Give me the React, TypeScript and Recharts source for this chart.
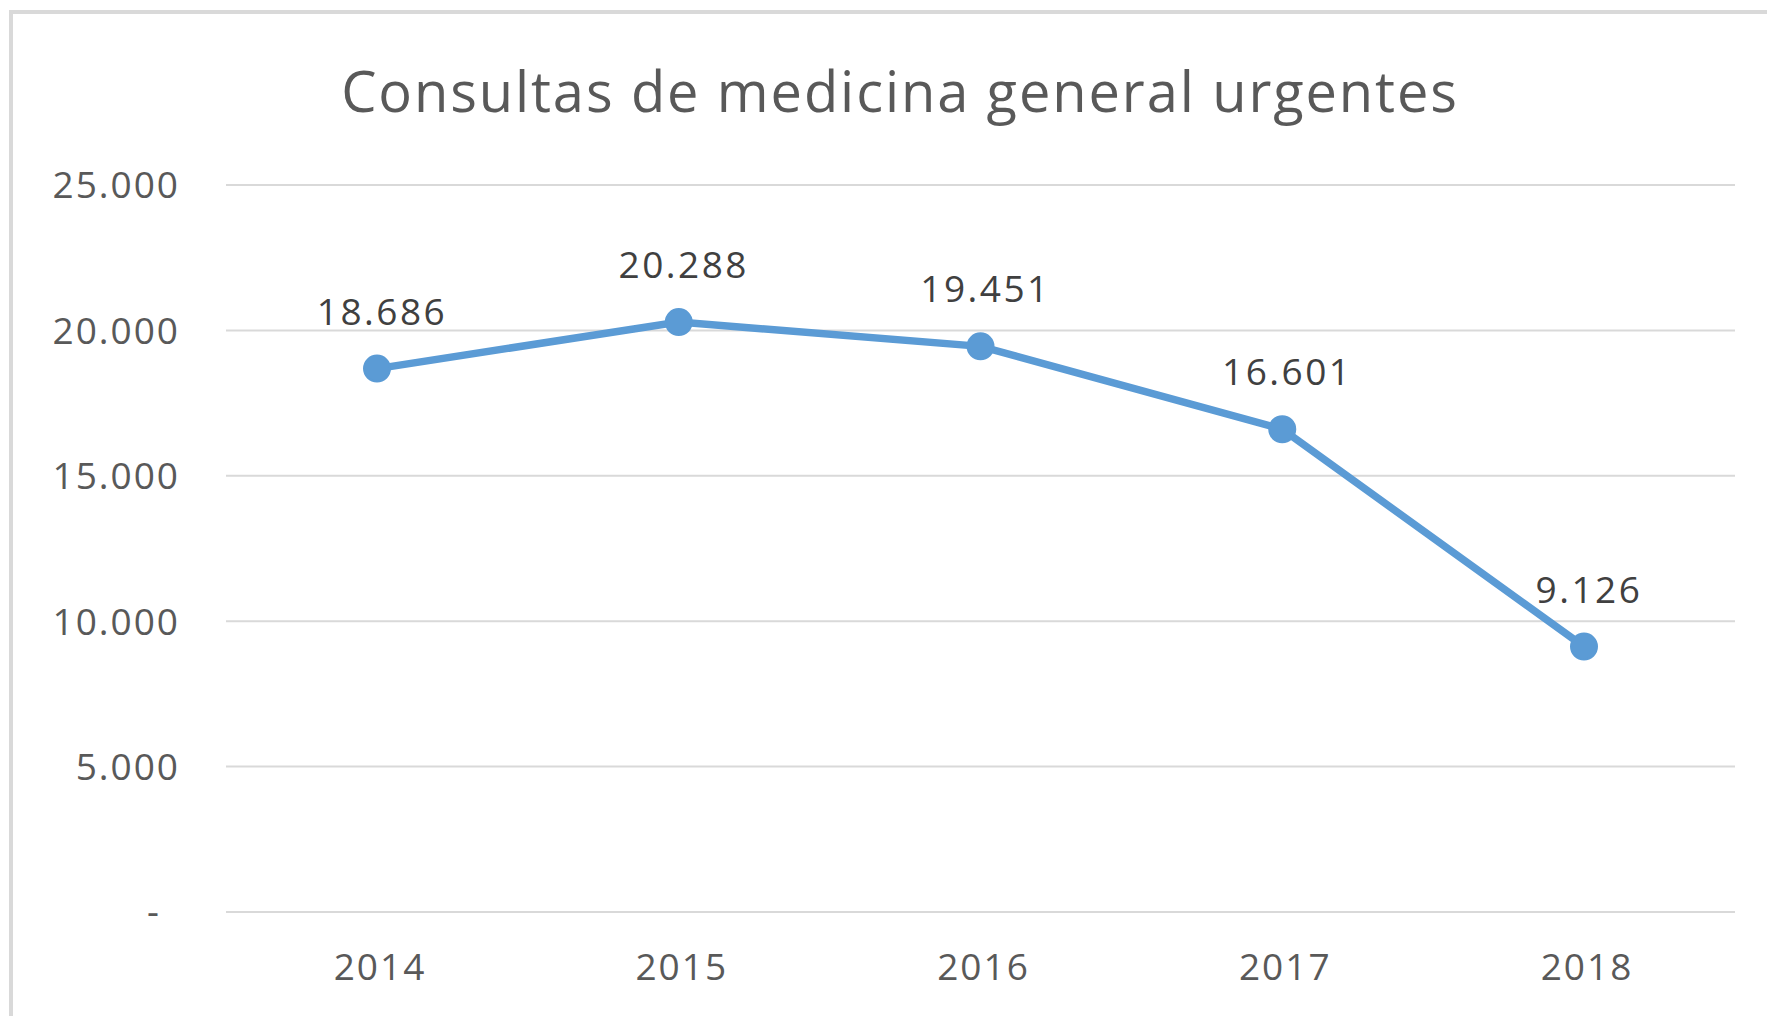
import React from 'react'
import { LineChart, Line, XAxis, YAxis, CartesianGrid, LabelList } from 'recharts'

const years = ['2014', '2015', '2016', '2017', '2018']
const consultas = [18686, 20288, 19451, 16601, 9126]
const yTicks = [0, 5000, 10000, 15000, 20000, 25000]

const data = years.map((year, i) => ({ year, value: consultas[i] }))

const BLUE = '#5b9bd5'
const GRID = '#d9d9d9'
const FONT = '"Open Sans", "DejaVu Sans", sans-serif'

// thousands separator with a dot, like the Spanish Excel output
const fmt = (v: number) => String(Math.round(v)).replace(/\B(?=(\d{3})+(?!\d))/g, '.')

const YTick = (props: any) => {
  const { x, y, payload } = props
  const zero = payload.value === 0
  return (
    <text
      x={zero ? x - 16 : x + 3}
      y={y}
      dy="0.36em"
      textAnchor="end"
      fill="#595959"
      fontSize={37}
      letterSpacing={2}
      fontFamily={FONT}
    >
      {zero ? '-' : fmt(payload.value)}
    </text>
  )
}

export default function App() {
  return (
    <div style={{ position: 'absolute', left: 0, top: 0, width: 1767, height: 1016, background: '#fff', overflow: 'hidden' }}>
      <div
        style={{
          position: 'absolute',
          left: 9,
          top: 10,
          width: 1800,
          height: 1050,
          border: `4px solid ${GRID}`,
          boxSizing: 'border-box',
        }}
      />
      <div
        style={{
          position: 'absolute',
          left: 0,
          width: 1800,
          top: 51,
          textAlign: 'center',
          fontFamily: FONT,
          fontSize: 56,
          letterSpacing: 1.9,
          color: '#595959',
          lineHeight: '78px',
        }}
      >
        Consultas de medicina general urgentes
      </div>
      <div style={{ position: 'absolute', left: 0, top: 0 }}>
        <LineChart width={1767} height={1016} data={data} margin={{ top: 185, right: 32, bottom: 44, left: 26 }}>
          <CartesianGrid vertical={false} stroke={GRID} strokeWidth={2} />
          <XAxis
            dataKey="year"
            axisLine={false}
            tickLine={false}
            tickMargin={36}
            height={60}
            padding={{ left: 151, right: 151 }}
            tick={{ fill: '#595959', fontSize: 37, letterSpacing: 2, fontFamily: FONT, dx: 3 }}
          />
          <YAxis
            width={200}
            domain={[0, 25000]}
            ticks={yTicks}
            interval={0}
            axisLine={false}
            tickLine={false}
            tickMargin={43}
            tick={<YTick />}
          />
          <Line
            type="linear"
            dataKey="value"
            stroke={BLUE}
            strokeWidth={7.5}
            dot={{ r: 13, fill: BLUE, stroke: BLUE, strokeWidth: 2 }}
            isAnimationActive={false}
          >
            <LabelList
              dataKey="value"
              position="top"
              offset={44}
              dx={5}
              formatter={(v: any) => fmt(Number(v))}
              fill="#404040"
              fontSize={37}
              letterSpacing={2.5}
              fontFamily={FONT}
            />
          </Line>
        </LineChart>
      </div>
    </div>
  )
}
